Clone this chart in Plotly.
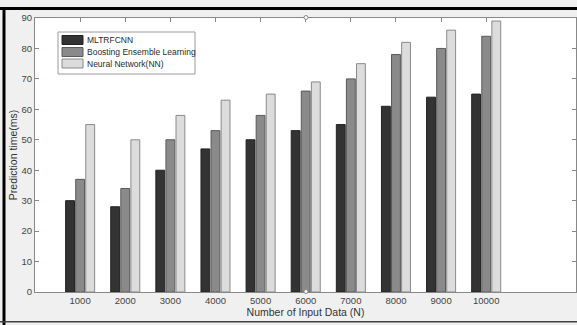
import plotly.graph_objects as go

# Prediction time (ms) by input size for three models
sizes = ["1000", "2000", "3000", "4000", "5000", "6000", "7000", "8000", "9000", "10000"]
series_names = ["MLTRFCNN", "Boosting Ensemble Learning", "Neural Network(NN)"]
mltrfcnn = [30, 28, 40, 47, 50, 53, 55, 61, 64, 65]
boosting = [37, 34, 50, 53, 58, 66, 70, 78, 80, 84]
neural_net = [55, 50, 58, 63, 65, 69, 75, 82, 86, 89]
y_ticks = [0, 10, 20, 30, 40, 50, 60, 70, 80, 90]

fills = ["#333333", "#8a8a8a", "#dcdcdc"]
edges = ["#222222", "#5a5a5a", "#8a8a8a"]

W, H = 577, 325
L, R, T, B = 35, 576, 18, 292  # plot area in pixels


def px(x):
    return (x - L) / (R - L)


def py(y):
    return (B - y) / (B - T)


positions = list(range(1, len(sizes) + 1))
fig = go.Figure()
for name, vals, fc, ec in zip(series_names, [mltrfcnn, boosting, neural_net], fills, edges):
    fig.add_trace(go.Bar(
        x=positions, y=vals, name=name,
        marker=dict(color=fc, line=dict(color=ec, width=1)),
        showlegend=False,
    ))

font = "Liberation Sans, Arial, sans-serif"
shapes = []
annotations = []

# outer frame bands (filled rectangles, no outline)
frame = [
    (0, 7, W, 10, "#000000"),      # top
    (2.5, 7, 5.5, H, "#000000"),   # left
    (0, 321, W, 322.5, "#444444"),  # bottom
]
for x0, y0, x1, y1, c in frame:
    shapes.append(dict(type="rect", xref="paper", yref="paper", x0=px(x0), x1=px(x1),
                       y0=py(y1), y1=py(y0), fillcolor=c, line=dict(width=0)))

# legend box
shapes.append(dict(type="rect", xref="paper", yref="paper", x0=px(58), x1=px(195), y0=py(74), y1=py(32),
                   line=dict(color="#9a9a9a", width=1), fillcolor="#ffffff"))
row_y = [40, 52, 63.5]
for name, fc, ec, yy in zip(series_names, fills, edges, row_y):
    shapes.append(dict(type="rect", xref="paper", yref="paper", x0=px(62), x1=px(83),
                       y0=py(yy + 4.5), y1=py(yy - 4.5),
                       line=dict(color=ec, width=1), fillcolor=fc))
    annotations.append(dict(text=name, xref="paper", yref="paper", x=px(84.5), y=py(yy),
                            xanchor="left", yanchor="middle", showarrow=False,
                            font=dict(family=font, size=8.5, color="#2a2a2a")))

# small selection handles on the axes frame
for cx, cy in [(306, 17.5), (306, 291.5)]:
    shapes.append(dict(type="circle", xref="paper", yref="paper",
                       x0=px(cx - 2), x1=px(cx + 2), y0=py(cy + 2), y1=py(cy - 2),
                       line=dict(color="#888888", width=1), fillcolor="#ffffff"))

fig.update_layout(
    width=W, height=H,
    margin=dict(l=L, r=W - R, t=T, b=H - B),
    paper_bgcolor="#f0f0f0", plot_bgcolor="#ffffff",
    barmode="group", bargap=0.33, bargroupgap=0.12,
    font=dict(family=font, size=9.5, color="#444444"),
    shapes=shapes, annotations=annotations,
)
fig.update_xaxes(
    range=[0, 11.99], tickvals=positions, ticktext=sizes,
    ticks="inside", ticklen=4, tickcolor="#888888", mirror="ticks",
    showline=True, linecolor="#888888", linewidth=1, showgrid=False, zeroline=False,
    tickfont=dict(size=9.5, color="#444444"),
    title=dict(text="Number of Input Data (N)", font=dict(size=10.5, color="#333333"), standoff=1),
)
fig.update_yaxes(
    range=[0, 90], tickvals=y_ticks,
    ticks="inside", ticklen=4, tickcolor="#888888", mirror="ticks",
    showline=True, linecolor="#888888", linewidth=1, showgrid=False, zeroline=False,
    tickfont=dict(size=9.5, color="#444444"),
    title=dict(text="Prediction time(ms)", font=dict(size=10.5, color="#333333"), standoff=1),
)

fig.write_html("out.html", config={"displayModeBar": False})
